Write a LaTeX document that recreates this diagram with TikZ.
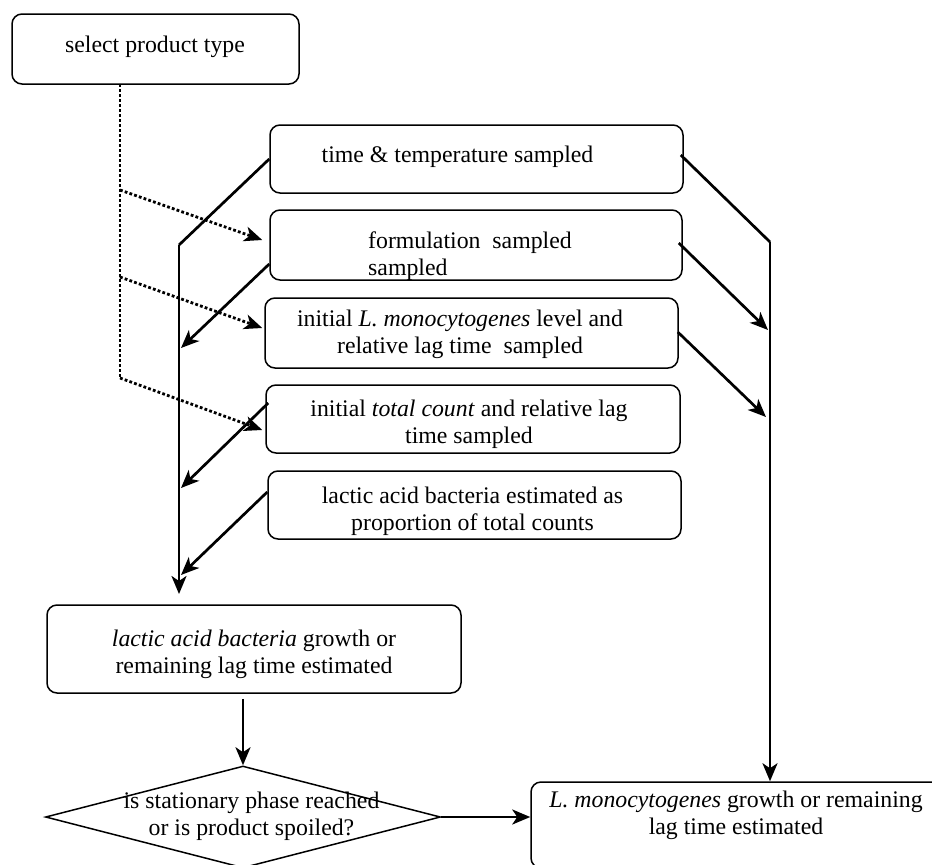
\documentclass[tikz,border=0pt]{standalone}
\usepackage{fontspec}
\setmainfont{Liberation Serif}
\usetikzlibrary{arrows.meta,shapes.geometric}
\begin{document}
\begin{tikzpicture}[x=1pt,y=-1pt,
  box/.style={draw, rounded corners=10pt, line width=1.5pt, inner sep=0pt},
  txt/.style={font=\fontsize{23.8}{27}\selectfont, align=center, inner sep=0pt},
  conn/.style={line width=2.7pt, -{Stealth[length=18pt,width=15pt,inset=5pt]}},
  trunk/.style={line width=2.7pt},
  dotline/.style={line width=2.8pt, dash pattern=on 2.8pt off 2.2pt},
  dotconn/.style={dotline, -{Stealth[length=18pt,width=15pt,inset=5pt]}}
]
\useasboundingbox (0,0) rectangle (932,865);
\clip (0,0) rectangle (932,865);

% boxes
\node[box, minimum width=287pt, minimum height=70pt] (sel) at (155.5,49) {};
\node[box, minimum width=413pt, minimum height=68pt] (tt) at (476.5,159) {};
\node[box, minimum width=412pt, minimum height=70pt] (fm) at (476,245) {};
\node[box, minimum width=413pt, minimum height=70pt] (lm) at (471.5,333) {};
\node[box, minimum width=414pt, minimum height=68pt] (tc) at (473,419) {};
\node[box, minimum width=413pt, minimum height=68pt] (le) at (474.5,505) {};
\node[box, minimum width=414pt, minimum height=88pt] (lg) at (254,649) {};
\node[draw, diamond, line width=1.5pt, inner sep=0pt, minimum width=395pt, minimum height=102pt] (dia) at (243,817) {};
\node[box, minimum width=410pt, minimum height=86pt] (lmg) at (736,825) {};

% texts (anchor=base is the last line's baseline)
\node[txt, anchor=base] (selt) at (155,52) {select product type};
\node[txt, anchor=base] (ttt) at (457.5,162) {time \& temperature sampled};
\node[txt, anchor=base west, align=left] (fmt) at (368,275) {formulation\ \ sampled\\sampled};
\node[txt, anchor=base] (lmt) at (460,353) {initial \textit{L. monocytogenes} level and\\relative lag time\ \ sampled};
\node[txt, anchor=base] (tct) at (469,443) {initial \textit{total count} and relative lag\\time sampled};
\node[txt, anchor=base] (let) at (472.5,530) {lactic acid bacteria estimated as\\proportion of total counts};
\node[txt, anchor=base] (lgt) at (254,673) {\textit{lactic acid bacteria} growth or\\remaining lag time estimated};
\node[txt, anchor=base] (diat) at (251.5,835) {is stationary phase reached\\or is product spoiled?};
\node[txt, anchor=base] (lmgt) at (736,834) {\textit{L. monocytogenes} growth or remaining\\lag time estimated};

% left trunk
\coordinate (L1) at (179,245);
\coordinate (Lend) at (179,594);
\draw[trunk] (tt.west) -- (L1);
\draw[conn] (L1) -- (Lend);
\coordinate (La) at (181,348);
\coordinate (Lb) at (181,488);
\coordinate (Lc) at (181,575);
\draw[conn] ([yshift=-19pt]fm.west) -- (La);
\draw[conn] ([xshift=3pt,yshift=16pt]tc.west) -- (Lb);
\draw[conn] ([yshift=13pt]le.west) -- (Lc);

% right trunk
\coordinate (R1) at (770,242);
\draw[trunk] ([xshift=-3pt,yshift=4pt]tt.east) -- (R1);
\draw[conn] (R1) -- (R1 |- lmg.north);
\coordinate (Ra) at (768,330);
\coordinate (Rb) at (766,417);
\draw[conn] ([xshift=-4pt,yshift=2pt]fm.east) -- (Ra);
\draw[conn] ([xshift=-1pt,yshift=1pt]lm.east) -- (Rb);

% dotted
\coordinate (D0) at (120,84);
\coordinate (D1) at (120,190);
\coordinate (D2) at (120,277);
\coordinate (D3) at (120,378);
\draw[dotline] (D0) -- (D3);
\draw[dotconn] (D1) -- ([xshift=-7pt,yshift=5pt]fm.west);
\draw[dotconn] (D2) -- ([xshift=-2pt,yshift=5pt]lm.west);
\draw[dotconn] (D3) -- ([xshift=-3pt,yshift=-11pt]tc.west);

% bottom
\coordinate (lgb) at ([yshift=-5pt]lg.south);
\draw[conn] (lgb -| dia.north) -- (dia.north);
\draw[conn] (dia.east) -- (dia.east -| lmg.west);
\end{tikzpicture}
\end{document}
